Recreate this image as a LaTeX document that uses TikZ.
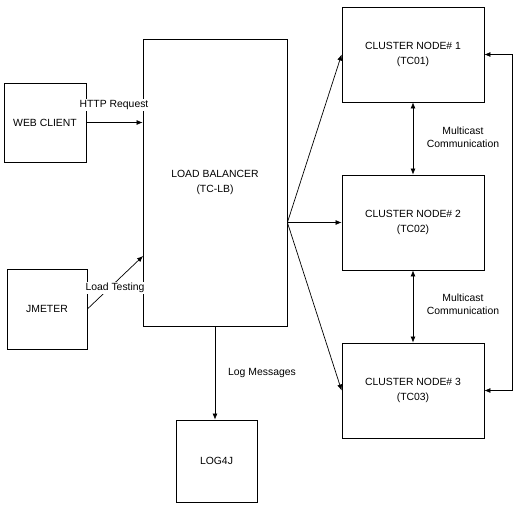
\documentclass[tikz,border=0pt]{standalone}
\usepackage{fontspec}
\setmainfont{Liberation Sans}
\usetikzlibrary{arrows.meta,calc}
\begin{document}
\begin{tikzpicture}[x=1pt,y=-1pt,
  font=\fontsize{10.4}{15}\selectfont,
  box/.style={draw,line width=0.8pt,inner sep=0pt,align=center},
  conn/.style={line width=0.7pt,-{Latex[length=6pt,width=5pt]}},
  dconn/.style={line width=0.7pt,{Latex[length=6pt,width=5pt]}-{Latex[length=6pt,width=5pt]}},
  lbl/.style={fill=white,inner sep=1pt,align=center,font=\fontsize{10.4}{13.5}\selectfont}]
\useasboundingbox[fill=white] (0,0) rectangle (517,506);
\node[box,minimum width=82pt,minimum height=79pt] (web) at (45,122.5) {WEB CLIENT};
\node[box,minimum width=80pt,minimum height=80pt] (jm) at (47,309) {JMETER};
\node[box,minimum width=144pt,minimum height=287pt] (lb) at (215,182.5) {LOAD BALANCER\\(TC-LB)};
\node[box,minimum width=142pt,minimum height=95pt] (cn1) at (413,54.5) {CLUSTER NODE\# 1\\(TC01)};
\node[box,minimum width=142pt,minimum height=95pt] (cn2) at (413,222.5) {CLUSTER NODE\# 2\\(TC02)};
\node[box,minimum width=142pt,minimum height=95pt] (cn3) at (413,390.5) {CLUSTER NODE\# 3\\(TC03)};
\node[box,minimum width=81pt,minimum height=82pt] (log) at (216.5,461) {LOG4J};
\coordinate (lbjm) at (143,256);
\coordinate (lbo) at (lb.east |- cn2.west);
\draw[conn] (web.east) -- (web.east -| lb.west);
\draw[conn] (jm.east) -- (lbjm);
\draw[conn] (lbo) -- (cn1.west);
\draw[conn] (lbo) -- (cn2.west);
\draw[conn] (lbo) -- (cn3.west);
\draw[conn] (lb.south) -- (lb.south |- log.north);
\draw[dconn] (cn1.south) -- (cn2.north);
\draw[dconn] (cn2.south) -- (cn3.north);
\draw[dconn] (cn1.east) -- ++(28,0) |- (cn3.east);
\node[lbl] (l1) at (114,105) {HTTP Request};
\node[lbl] (l2) at (115,288) {Load Testing};
\node[lbl,fill=none] (l3) at (262,373) {Log Messages};
\node[lbl,fill=none] (l4) at (463,137.5) {Multicast\\Communication};
\node[lbl,fill=none] (l5) at (463,304.5) {Multicast\\Communication};
\end{tikzpicture}
\end{document}
